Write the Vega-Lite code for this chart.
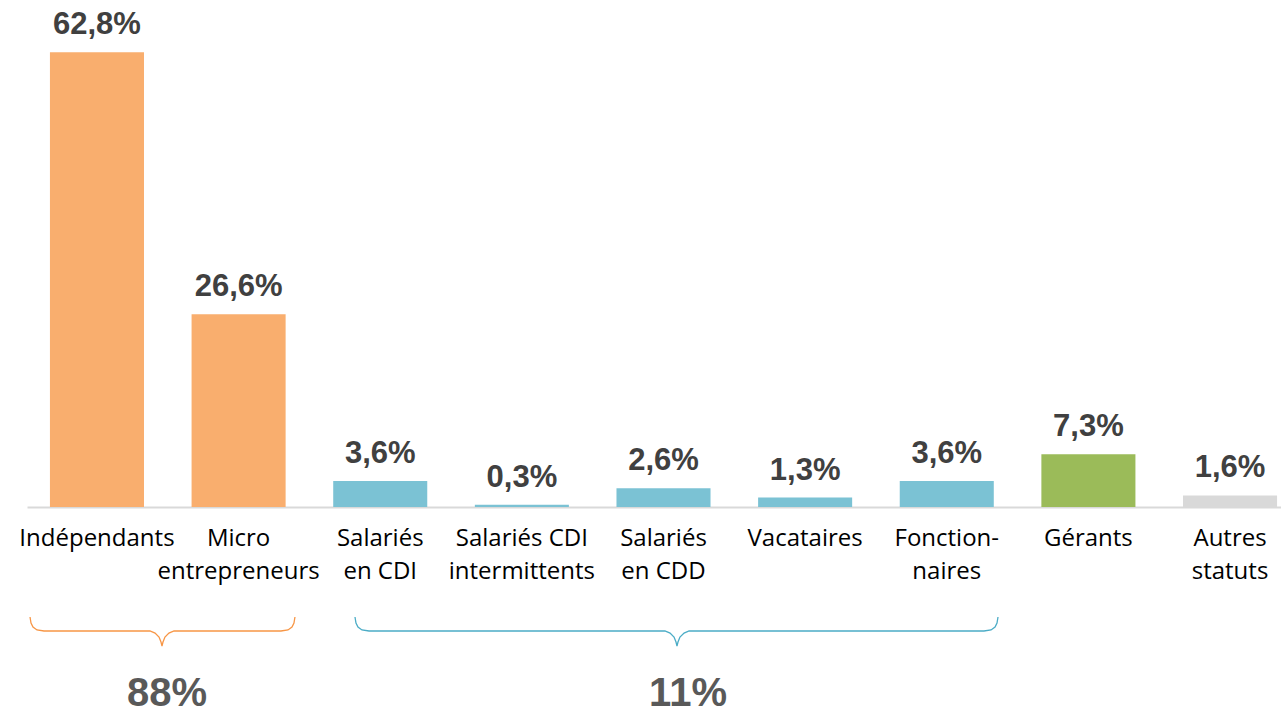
{
  "$schema": "https://vega.github.io/schema/vega-lite/v6.json",
  "width": 1254,
  "height": 507,
  "autosize": "none",
  "padding": {"left": 27, "top": 0, "right": 0, "bottom": 209},
  "background": "#ffffff",
  "config": {
    "view": {"stroke": null},
    "locale": {"number": {"decimal": ",", "thousands": "\u00a0", "grouping": [3], "currency": ["", "\u00a0€"]}}
  },
  "datasets": {
    "statuts": [
      {"statut": "Indépendants", "part": 0.628, "famille": "Non-salariés"},
      {"statut": "Micro entrepreneurs", "part": 0.266, "famille": "Non-salariés"},
      {"statut": "Salariés en CDI", "part": 0.036, "famille": "Salariés"},
      {"statut": "Salariés CDI intermittents", "part": 0.003, "famille": "Salariés"},
      {"statut": "Salariés en CDD", "part": 0.026, "famille": "Salariés"},
      {"statut": "Vacataires", "part": 0.013, "famille": "Salariés"},
      {"statut": "Fonctionnaires", "part": 0.036, "famille": "Salariés"},
      {"statut": "Gérants", "part": 0.073, "famille": "Gérants"},
      {"statut": "Autres statuts", "part": 0.016, "famille": "Autres"}
    ],
    "accolades": [
      {"famille": "Non-salariés", "pos": -0.473, "niveau": -0.1519},
      {"famille": "Non-salariés", "pos": -0.466, "niveau": -0.1602},
      {"famille": "Non-salariés", "pos": -0.452, "niveau": -0.1657},
      {"famille": "Non-salariés", "pos": -0.424, "niveau": -0.1698},
      {"famille": "Non-salariés", "pos": -0.374, "niveau": -0.1712},
      {"famille": "Non-salariés", "pos": 0.374, "niveau": -0.1712},
      {"famille": "Non-salariés", "pos": 0.410, "niveau": -0.1740},
      {"famille": "Non-salariés", "pos": 0.438, "niveau": -0.1795},
      {"famille": "Non-salariés", "pos": 0.452, "niveau": -0.1864},
      {"famille": "Non-salariés", "pos": 0.459, "niveau": -0.1919},
      {"famille": "Non-salariés", "pos": 0.466, "niveau": -0.1864},
      {"famille": "Non-salariés", "pos": 0.480, "niveau": -0.1795},
      {"famille": "Non-salariés", "pos": 0.508, "niveau": -0.1740},
      {"famille": "Non-salariés", "pos": 0.544, "niveau": -0.1712},
      {"famille": "Non-salariés", "pos": 1.299, "niveau": -0.1712},
      {"famille": "Non-salariés", "pos": 1.349, "niveau": -0.1698},
      {"famille": "Non-salariés", "pos": 1.377, "niveau": -0.1657},
      {"famille": "Non-salariés", "pos": 1.391, "niveau": -0.1602},
      {"famille": "Non-salariés", "pos": 1.398, "niveau": -0.1519},
      {"famille": "Salariés", "pos": 1.822, "niveau": -0.1519},
      {"famille": "Salariés", "pos": 1.829, "niveau": -0.1602},
      {"famille": "Salariés", "pos": 1.843, "niveau": -0.1657},
      {"famille": "Salariés", "pos": 1.871, "niveau": -0.1698},
      {"famille": "Salariés", "pos": 1.921, "niveau": -0.1712},
      {"famille": "Salariés", "pos": 4.011, "niveau": -0.1712},
      {"famille": "Salariés", "pos": 4.047, "niveau": -0.1740},
      {"famille": "Salariés", "pos": 4.075, "niveau": -0.1795},
      {"famille": "Salariés", "pos": 4.089, "niveau": -0.1864},
      {"famille": "Salariés", "pos": 4.096, "niveau": -0.1919},
      {"famille": "Salariés", "pos": 4.103, "niveau": -0.1864},
      {"famille": "Salariés", "pos": 4.117, "niveau": -0.1795},
      {"famille": "Salariés", "pos": 4.146, "niveau": -0.1740},
      {"famille": "Salariés", "pos": 4.181, "niveau": -0.1712},
      {"famille": "Salariés", "pos": 6.264, "niveau": -0.1712},
      {"famille": "Salariés", "pos": 6.314, "niveau": -0.1698},
      {"famille": "Salariés", "pos": 6.342, "niveau": -0.1657},
      {"famille": "Salariés", "pos": 6.356, "niveau": -0.1602},
      {"famille": "Salariés", "pos": 6.363, "niveau": -0.1519}
    ],
    "totaux": [
      {"famille": "Non-salariés", "total": 0.88, "pos": 0.494, "niveau": -0.2747},
      {"famille": "Salariés", "total": 0.11, "pos": 4.174, "niveau": -0.2747}
    ]
  },
  "layer": [
    {
      "data": {"name": "statuts"},
      "encoding": {
        "x": {
          "field": "statut",
          "type": "nominal",
          "sort": null,
          "scale": {"range": [0, 1273], "paddingInner": 0.336, "paddingOuter": 0.162},
          "axis": {
            "title": null,
            "ticks": false,
            "grid": false,
            "domainColor": "#D9D9D9",
            "domainWidth": 2,
            "labelAngle": 0,
            "labelFont": "Open Sans",
            "labelFontSize": 24,
            "labelColor": "#000000",
            "labelPadding": 38,
            "labelBaseline": "alphabetic",
            "labelLineHeight": 33,
            "labelLimit": 0,
            "labelOverlap": false,
            "labelBound": false,
            "labelExpr": "{'Micro entrepreneurs': ['Micro', 'entrepreneurs'], 'Salariés en CDI': ['Salariés', 'en CDI'], 'Salariés CDI intermittents': ['Salariés CDI', 'intermittents'], 'Salariés en CDD': ['Salariés', 'en CDD'], 'Fonctionnaires': ['Fonction-', 'naires'], 'Autres statuts': ['Autres', 'statuts']}[datum.value] || datum.value"
          }
        },
        "y": {
          "field": "part",
          "type": "quantitative",
          "scale": {"domain": [0, 0.7], "nice": false, "zero": true},
          "axis": null
        }
      },
      "layer": [
        {
          "mark": {"type": "bar"},
          "encoding": {
            "color": {
              "field": "famille",
              "type": "nominal",
              "scale": {"domain": ["Non-salariés", "Salariés", "Gérants", "Autres"], "range": ["#F9AE6E", "#7BC2D4", "#9BBB59", "#D9D9D9"]},
              "legend": null
            }
          }
        },
        {
          "mark": {"type": "text", "baseline": "alphabetic", "align": "center", "dy": -18, "font": "Liberation Sans", "fontWeight": "bold", "fontSize": 31, "color": "#404040"},
          "encoding": {
            "text": {"field": "part", "type": "quantitative", "format": ".1%"}
          }
        }
      ]
    },
    {
      "encoding": {
        "x": {
          "field": "pos",
          "type": "quantitative",
          "scale": {"domain": [-0.49435, 8.49576], "range": [0, 1273], "nice": false, "zero": false},
          "axis": null
        },
        "y": {
          "field": "niveau",
          "type": "quantitative",
          "scale": {"domain": [0, 0.7], "nice": false, "zero": true},
          "axis": null
        }
      },
      "layer": [
        {
          "data": {"name": "accolades"},
          "mark": {"type": "line", "strokeWidth": 1.3, "interpolate": "linear"},
          "encoding": {
            "color": {
              "field": "famille",
              "type": "nominal",
              "scale": {"domain": ["Non-salariés", "Salariés"], "range": ["#F79646", "#4BACC6"]},
              "legend": null
            }
          }
        },
        {
          "data": {"name": "totaux"},
          "mark": {"type": "text", "baseline": "alphabetic", "align": "center", "font": "Liberation Sans", "fontWeight": "bold", "fontSize": 40, "color": "#595959"},
          "encoding": {
            "text": {"field": "total", "type": "quantitative", "format": ".0%"}
          }
        }
      ]
    }
  ],
  "resolve": {"scale": {"x": "independent", "color": "independent"}}
}
